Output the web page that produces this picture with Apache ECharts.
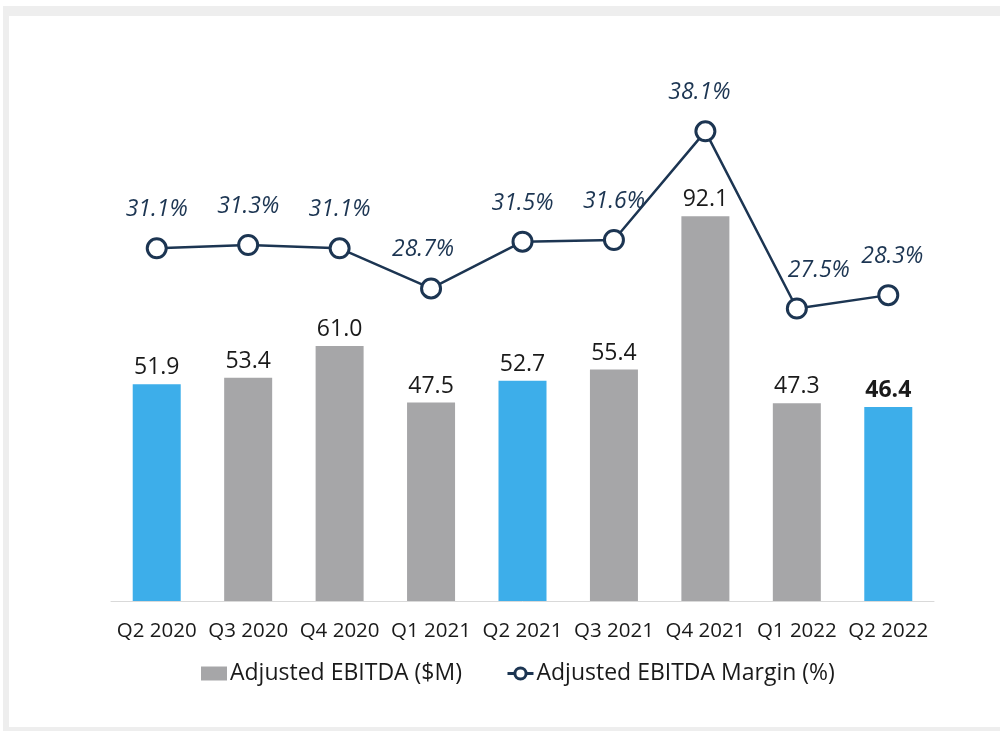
<!DOCTYPE html>
<html>
<head>
<meta charset="UTF-8">
<title>Adjusted EBITDA</title>
<script type="text/javascript" src="https://cdn.jsdelivr.net/npm/echarts@6/dist/echarts.min.js"></script>
<style>
  body{margin:0;background:#fff}
  #frame{position:absolute;left:3px;top:6px;width:997px;height:725px;background:#eeeeee}
  #panel{position:absolute;left:9px;top:16px;width:991px;height:711px;background:#fff}
  #main{position:absolute;left:0;top:0;width:1000px;height:731px}
</style>
</head>
<body>
<div id="frame"></div>
<div id="panel"></div>
<div id="main"></div>
<script type="text/javascript">
// quarters on the x axis
var quarters = ['Q2 2020','Q3 2020','Q4 2020','Q1 2021','Q2 2021','Q3 2021','Q4 2021','Q1 2022','Q2 2022'];
// Adjusted EBITDA ($M)
var ebitda = [51.9, 53.4, 61.0, 47.5, 52.7, 55.4, 92.1, 47.3, 46.4];
// Adjusted EBITDA margin (%)
var margin = [31.1, 31.3, 31.1, 28.7, 31.5, 31.6, 38.1, 27.5, 28.3];
// Q2 quarters are shown in blue
var highlight = [0, 4, 8];

var blue = '#3daeea';
var grey = '#a6a6a8';
var navy = '#1c3552';
var font = 'Open Sans';

var myChart = echarts.init(document.getElementById('main'));

var barData = ebitda.map(function(v, i){
  var hi = highlight.indexOf(i) >= 0;
  var item = {value: v, itemStyle: {color: hi ? blue : grey}};
  if (i == ebitda.length - 1) item.label = {fontWeight: 'bold'};
  return item;
});

// a few margin labels sit off-centre in the original
var labelShift = {3: [-8, 0], 6: [-6, 0], 7: [22, 0], 8: [4, 0]};
var lineData = margin.map(function(v, i){
  var item = {value: v};
  if (labelShift[i]) item.label = {offset: labelShift[i]};
  return item;
});

var option = {
  animation: false,
  textStyle: {fontFamily: font},
  legend: {
    bottom: 41,
    left: 196,
    itemWidth: 26,
    itemHeight: 14,
    itemGap: 44,
    textStyle: {fontSize: 23, color: '#1a1a1a', fontFamily: font, padding: [0, 0, 0, -2]},
    data: [
      {name: 'Adjusted EBITDA ($M)', icon: 'rect', itemStyle: {color: grey}},
      {name: 'Adjusted EBITDA Margin (%)',
       itemStyle: {color: '#fff', borderColor: navy, borderWidth: 3},
       lineStyle: {color: navy, width: 3}}
    ]
  },
  grid: {left: 111, right: 66, top: 16, bottom: 130},
  xAxis: {
    type: 'category',
    data: quarters,
    axisLine: {lineStyle: {color: '#d9d9d9', width: 1}},
    axisTick: {length: 8, lineStyle: {color: '#d9d9d9'}},
    axisLabel: {fontSize: 20.5, color: '#1a1a1a', margin: 20, interval: 0}
  },
  yAxis: [
    {type: 'value', min: 0, max: 140, show: false, splitLine: {show: false}},
    {type: 'value', min: 10, max: 45, show: false, splitLine: {show: false}}
  ],
  series: [
    {
      name: 'Adjusted EBITDA ($M)',
      type: 'bar',
      barWidth: 48,
      data: barData,
      label: {
        show: true,
        position: 'top',
        distance: 5,
        fontSize: 23,
        color: '#1a1a1a',
        formatter: function(p){ return p.value.toFixed(1); }
      }
    },
    {
      name: 'Adjusted EBITDA Margin (%)',
      type: 'line',
      yAxisIndex: 1,
      data: lineData,
      symbol: 'circle',
      symbolSize: 19,
      lineStyle: {color: navy, width: 2.5},
      itemStyle: {color: '#fff', borderColor: navy, borderWidth: 3},
      label: {
        show: true,
        position: 'top',
        distance: 16,
        fontSize: 23,
        fontStyle: 'italic',
        color: navy,
        formatter: function(p){ return p.value.toFixed(1) + '%'; }
      },
      z: 3
    }
  ]
};

myChart.setOption(option);
</script>
</body>
</html>
